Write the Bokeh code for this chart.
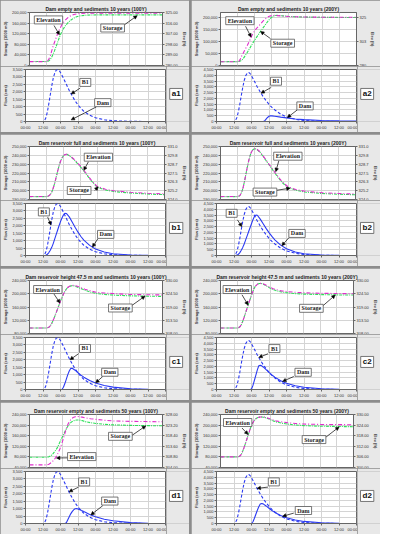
from bokeh.plotting import figure
from bokeh.models import Range1d, LinearAxis, FixedTicker, NumeralTickFormatter, Label, Arrow, NormalHead
from bokeh.layouts import column, row
from bokeh.embed import file_html
from bokeh.resources import INLINE

# ---------------- data ----------------
X_TICKS = [0, 12, 24, 36, 48, 60, 72, 84, 96]
X_LABELS = ["00:00", "12:00", "00:00", "12:00", "00:00", "12:00", "00:00", "12:00", "00:00"]

H_B1 = [0, 6, 12, 13, 14, 15, 16, 17, 18, 19, 20, 21, 22, 23, 24, 25, 26, 27, 28, 30, 32, 34, 36, 38, 40, 44, 48, 54, 60, 72, 84, 96]
B1_100 = [0, 0, 0, 40, 250, 650, 1200, 1800, 2400, 2900, 3250, 3450, 3500, 3440, 3300, 3120, 2920, 2710, 2500, 2090, 1720, 1390, 1110, 880, 690, 420, 255, 115, 50, 10, 0, 0]
B1_200 = [0, 0, 0, 80, 350, 850, 1500, 2250, 2950, 3550, 3950, 4180, 4250, 4150, 3950, 3720, 3480, 3230, 2990, 2550, 2150, 1800, 1490, 1220, 1000, 640, 400, 190, 85, 20, 0, 0]

A1_DAM_T = [0, 96]
A1_DAM = [0, 0]
A2_DAM_T = [0, 32, 33, 34, 35, 36, 37, 38, 40, 44, 48, 54, 60, 72, 84, 96]
A2_DAM = [0, 0, 50, 200, 350, 450, 500, 490, 460, 380, 310, 220, 160, 90, 55, 35]
B1_DAM = [0, 0, 0, 0, 20, 80, 200, 350, 550, 800, 1100, 1400, 1700, 2000, 2280, 2520, 2720, 2840, 2830, 2600, 2250, 1900, 1570, 1280, 1030, 680, 440, 230, 120, 35, 10, 0]
B2_DAM = [0, 0, 0, 0, 30, 100, 250, 450, 700, 1000, 1350, 1700, 2050, 2400, 2750, 3100, 3380, 3500, 3480, 3150, 2750, 2350, 1980, 1650, 1360, 900, 590, 300, 150, 40, 10, 0]
C1_DAM_T = [0, 25, 26, 27, 28, 29, 30, 31, 32, 34, 36, 38, 40, 44, 48, 54, 60, 72, 84, 96]
C1_DAM = [0, 0, 150, 400, 700, 1000, 1250, 1420, 1430, 1300, 1130, 970, 830, 600, 440, 270, 160, 50, 15, 0]
C2_DAM_T = [0, 23, 24, 25, 26, 27, 28, 29, 30, 31, 32, 34, 36, 38, 40, 44, 48, 54, 60, 72, 84, 96]
C2_DAM = [0, 0, 50, 350, 800, 1250, 1700, 2050, 2100, 2050, 1950, 1720, 1480, 1260, 1070, 760, 540, 320, 190, 60, 20, 0]
D1_DAM_T = [0, 27, 28, 29, 30, 31, 32, 33, 34, 35, 36, 38, 40, 44, 48, 54, 60, 72, 84, 96]
D1_DAM = [0, 0, 50, 250, 450, 650, 800, 920, 990, 1000, 980, 900, 800, 610, 460, 290, 180, 60, 20, 0]
D2_DAM_T = [0, 24, 25, 26, 27, 28, 29, 30, 31, 32, 34, 36, 38, 40, 44, 48, 54, 60, 72, 84, 96]
D2_DAM = [0, 0, 150, 450, 800, 1150, 1450, 1680, 1730, 1700, 1520, 1320, 1130, 960, 690, 490, 300, 180, 60, 20, 0]

A1_T = [0, 12, 13, 14, 15, 16, 17, 18, 19, 20, 21, 22, 23, 24, 25, 26, 28, 30, 32, 34, 36, 40, 44, 48, 60, 72, 96]
A1_STOR = [15000, 15000, 15500, 18000, 23000, 31000, 42000, 55000, 69000, 83000, 98000, 112000, 124000, 134000, 143000, 151000, 163000, 172000, 179000, 184000, 187000, 189500, 190500, 191000, 191000, 191000, 191000]
A1_ELEV = [283.3, 283.3, 283.8, 285.5, 288.3, 292.2, 296.3, 299.5, 302.8, 306, 309, 311.6, 313.8, 315.7, 317.3, 318.7, 320.9, 322.4, 323.3, 323.8, 324.1, 324.3, 324.3, 324.3, 324.3, 324.3, 324.3]

A2_T = [0, 12, 13, 14, 15, 16, 17, 18, 19, 20, 21, 22, 23, 24, 25, 26, 28, 30, 32, 34, 36, 38, 40, 44, 48, 54, 60, 72, 96]
A2_STOR = [16000, 16000, 16500, 19000, 22000, 28000, 37000, 46000, 55000, 65000, 75000, 85000, 95000, 104000, 113000, 122000, 139000, 156000, 172000, 188000, 200000, 207000, 208000, 206000, 204000, 202000, 201000, 200000, 199000]
A2_ELEV = [283.5, 283.5, 284, 286, 289, 291.5, 294, 296.5, 299, 301.8, 304.5, 307.5, 310, 312.2, 314, 315.5, 318.5, 321.5, 324, 325.8, 326.6, 326.8, 326.6, 326.2, 325.8, 325.5, 325.3, 325.1, 325]

B_T = [0, 12, 13, 14, 15, 16, 17, 18, 19, 20, 21, 22, 23, 24, 25, 26, 27, 28, 30, 32, 34, 36, 38, 40, 44, 48, 54, 60, 72, 84, 96]
B1_STOR = [193300, 193300, 193500, 194500, 196000, 199000, 203500, 209000, 215500, 222000, 228000, 233000, 236800, 239200, 240700, 241200, 240900, 239800, 237500, 234500, 231000, 227500, 223500, 219500, 211000, 204000, 200800, 199000, 197300, 196200, 195500]
B1_ELEV = [324.39, 324.39, 324.41, 324.53, 324.70, 325.05, 325.58, 326.22, 326.98, 327.73, 328.43, 329.02, 329.46, 329.74, 329.92, 329.97, 329.97, 329.85, 329.59, 329.25, 328.85, 328.46, 327.99, 327.53, 326.54, 325.73, 325.36, 325.15, 324.95, 324.82, 324.74]
B2_STOR = [193300, 193300, 193600, 195000, 198000, 203000, 210000, 218000, 226000, 233500, 239500, 243800, 246300, 247300, 247300, 246500, 245200, 243600, 239500, 235000, 230500, 226000, 221500, 217000, 209000, 203500, 200300, 198500, 196800, 195900, 195400]
B2_ELEV = [324.39, 324.39, 324.42, 324.58, 324.93, 325.52, 326.33, 327.27, 328.2, 329.08, 329.78, 330.28, 330.57, 330.69, 330.69, 330.62, 330.48, 330.29, 329.83, 329.31, 328.8, 328.28, 327.76, 327.24, 326.31, 325.68, 325.30, 325.09, 324.89, 324.79, 324.73]

C_T = [0, 12, 13, 14, 15, 16, 17, 18, 19, 20, 21, 22, 23, 24, 25, 26, 27, 28, 29, 30, 31, 32, 34, 36, 38, 40, 44, 48, 54, 60, 72, 84, 96]
C1_STOR = [96600, 96600, 97000, 99000, 103000, 110000, 119000, 129000, 140000, 151000, 162500, 174000, 185000, 194500, 203000, 210500, 216000, 220000, 222500, 223800, 224200, 223800, 221000, 217500, 214000, 210500, 205000, 201000, 198000, 196000, 193800, 192800, 192000]
C1_ELEV = [310.3, 310.3, 310.35, 310.6, 311.2, 312.1, 313.4, 314.7, 316.3, 317.8, 319.3, 320.9, 322.4, 323.7, 324.9, 325.9, 326.7, 327.3, 327.6, 327.8, 327.9, 328.0, 327.7, 327.3, 326.8, 326.4, 325.7, 325.1, 324.8, 324.6, 324.2, 324.1, 324.0]
C2_STOR = [96600, 96600, 97500, 100500, 106000, 116000, 128000, 141000, 154000, 166500, 179000, 191500, 203000, 213500, 221500, 226500, 229500, 231000, 231200, 230500, 228500, 226000, 221000, 216500, 212500, 209500, 205500, 203000, 200500, 199000, 197500, 196500, 196000]
C2_ELEV = [310.3, 310.3, 310.4, 310.8, 311.6, 313.0, 314.6, 316.4, 318.2, 319.9, 321.6, 323.3, 324.9, 326.4, 327.5, 328.1, 328.6, 328.8, 328.8, 328.8, 328.6, 328.3, 327.7, 327.1, 326.6, 326.2, 325.7, 325.4, 325.1, 324.9, 324.7, 324.6, 324.5]

D_T = [0, 12, 13, 14, 15, 16, 17, 18, 19, 20, 21, 22, 23, 24, 25, 26, 27, 28, 29, 30, 31, 32, 33, 34, 35, 36, 38, 40, 44, 48, 54, 60, 72, 84, 96]
D1_STOR = [78800, 78800, 79200, 80500, 83000, 87000, 92500, 99000, 106000, 114000, 125000, 136500, 148000, 158500, 169500, 180000, 190000, 198500, 205500, 210500, 214000, 216500, 218300, 219300, 219400, 219000, 217000, 213300, 209000, 206300, 203000, 201000, 199000, 198000, 197500]
D1_ELEV = [305.2, 305.2, 305.3, 305.5, 305.9, 306.4, 307.0, 307.7, 308.6, 309.7, 311.0, 312.5, 314.3, 316.2, 318.3, 320.4, 322.3, 323.9, 325.0, 325.8, 326.4, 326.8, 327.0, 327.1, 327.1, 327.0, 326.8, 326.5, 326.1, 325.8, 325.4, 325.1, 324.9, 324.8, 324.7]
D2_STOR = [80000, 80000, 80800, 83500, 89000, 101000, 115000, 130500, 146500, 162500, 178500, 194000, 206000, 214500, 221000, 226000, 228800, 230000, 230400, 230300, 229600, 228500, 226900, 225000, 222800, 220500, 216000, 212300, 207500, 204200, 200500, 198000, 195800, 194700, 194000]
D2_ELEV = [306.0, 306.0, 306.1, 306.5, 307.4, 309.2, 311.3, 313.6, 316.0, 318.4, 320.8, 323.1, 324.9, 326.2, 327.2, 327.9, 328.3, 328.5, 328.6, 328.6, 328.55, 328.5, 328.3, 328.05, 327.75, 327.4, 326.9, 326.4, 325.8, 325.4, 324.9, 324.6, 324.4, 324.3, 324.2]

# axis ticks / labels
A1_LT = [0, 40000, 80000, 120000, 160000, 200000]
A1_RT = [280, 289, 298, 307, 316, 325]
A1_RL = ["280.00", "289.00", "298.00", "307.00", "316.00", "325.00"]
A2_LT = [0, 50000, 100000, 150000, 200000]
A2_RT = [280, 302.5, 325]
A2_RL = ["280", "303", "325"]
B_LT = [190000, 200000, 210000, 220000, 230000, 240000, 250000]
B_RT = [324.0, 325.1667, 326.3333, 327.5, 328.6667, 329.8333, 331.0]
B_RL = ["324.0", "325.2", "326.3", "327.5", "328.7", "329.8", "331.0"]
C_LT = [80000, 120000, 160000, 200000, 240000]
C_RT = [308.0, 313.5, 319.0, 324.5, 330.0]
C_RL = ["308.00", "313.50", "319.00", "324.50", "330.00"]
D1_LT = [40000, 80000, 120000, 160000, 200000, 240000]
D1_RT = [304.0, 308.8, 313.6, 318.4, 323.2, 328.0]
D1_RL = ["304.00", "308.80", "313.60", "318.40", "323.20", "328.00"]
D2_LT = [40000, 80000, 120000, 160000, 200000, 240000]
D2_RT = [300.0, 306.0, 312.0, 318.0, 324.0, 330.0]
D2_RL = ["300.00", "306.00", "312.00", "318.00", "324.00", "330.00"]
F100_T = [0, 500, 1000, 1500, 2000, 2500, 3000, 3500]
F200_T = [0, 500, 1000, 1500, 2000, 2500, 3000, 3500, 4000, 4500]

TITLES = {
    "a1": "Dam empty and sediments 10 years (100Y)",
    "a2": "Dam empty and sediments 10 years (200Y)",
    "b1": "Dam reservoir full and sediments 10 years (100Y)",
    "b2": "Dam reservoir full and sediments 10 years (200Y)",
    "c1": "Dam reservoir height 47.5 m and sediments 10 years (100Y)",
    "c2": "Dam reservoir height 47.5 m and sediments 10 years (200Y)",
    "d1": "Dam reservoir empty and sediments 50 years (100Y)",
    "d2": "Dam reservoir empty and sediments 50 years (200Y)",
}

# ---------------- style ----------------
W, HT, HB = 189, 66, 66
ML, MR = 25, 24
PANEL = "#e8e8e8"
FRAME = "#666666"
GRID = "#d4d4d4"
GREEN = "#2fe05a"
MAGENTA = "#e02ccc"
BLUE = "#2b3af2"
TICK_FS = "4px"


def style_axis(ax):
    ax.major_label_text_font_size = TICK_FS
    ax.major_label_text_font = "Liberation Sans"
    ax.major_label_text_color = "#333333"
    ax.major_label_standoff = 1
    ax.major_tick_out = 2
    ax.major_tick_in = 0
    ax.minor_tick_line_color = None
    ax.axis_line_color = FRAME
    ax.major_tick_line_color = FRAME
    ax.axis_label_text_font_size = "4px"
    ax.axis_label_text_font = "Liberation Sans"
    ax.axis_label_text_font_style = "bold"
    ax.axis_label_text_color = "#333333"
    ax.axis_label_standoff = 1


def add_note(p, txt, lx, ly, x0, y0, x1, y1):
    p.add_layout(Arrow(end=NormalHead(size=3.5, fill_color="black", line_color="black", line_width=0.5),
                       x_start=x0, y_start=y0, x_end=x1, y_end=y1,
                       line_color="black", line_width=0.7))
    p.add_layout(Label(x=lx, y=ly, text=txt, text_align="center", text_baseline="middle",
                       text_font="Liberation Serif", text_font_style="bold", text_font_size="6px",
                       text_color="#222222", background_fill_color="white",
                       border_line_color="#555555", border_line_width=0.8, padding=(2, 1)))


def top_fig(key, t, stor, elev, yr, lt, rr, rt, rl, fmt, notes):
    p = figure(width=W, height=HT, x_range=Range1d(0, 96), y_range=Range1d(*yr),
               x_axis_location=None, output_backend="svg", toolbar_location=None,
               min_border_left=ML, min_border_right=MR, min_border_top=12, min_border_bottom=1,
               border_fill_color=PANEL, background_fill_color="white", outline_line_color=FRAME)
    p.title.text = TITLES[key]
    p.title.align = "center"
    p.title.text_font = "Liberation Sans"
    p.title.text_font_size = "5px"
    p.title.text_font_style = "bold"
    p.title.text_color = "#222222"
    p.title.standoff = 2
    p.xgrid.ticker = FixedTicker(ticks=X_TICKS)
    p.xgrid.grid_line_color = GRID
    p.ygrid.grid_line_color = GRID
    ax = p.yaxis[0]
    ax.ticker = FixedTicker(ticks=lt)
    ax.formatter = NumeralTickFormatter(format="0,0")
    ax.axis_label = "Storage (1000 m3)"
    style_axis(ax)
    p.extra_y_ranges = {"elev": Range1d(*rr)}
    rax = LinearAxis(y_range_name="elev", ticker=FixedTicker(ticks=rt),
                     formatter=NumeralTickFormatter(format=fmt),
                     major_label_overrides={v: s for v, s in zip(rt, rl)},
                     axis_label="Elev (ft)")
    style_axis(rax)
    p.add_layout(rax, "right")
    p.line(t, stor, color=GREEN, line_width=1.1, line_dash="3 1 1 1")
    p.line(t, elev, y_range_name="elev", color=MAGENTA, line_width=1.1, line_dash="4 2 1 2")
    for n in notes:
        add_note(p, *n)
    return p


def bot_fig(key, b1, dam_t, dam, fmax, ft, notes):
    p = figure(width=W - MR + 1, height=HB, x_range=Range1d(0, 96), y_range=Range1d(0, fmax),
               output_backend="svg", toolbar_location=None,
               min_border_left=ML, min_border_right=1, min_border_top=3, min_border_bottom=10,
               border_fill_color=PANEL, background_fill_color="white", outline_line_color=FRAME)
    p.xgrid.grid_line_color = GRID
    p.ygrid.grid_line_color = GRID
    xa = p.xaxis[0]
    xa.ticker = FixedTicker(ticks=X_TICKS)
    xa.major_label_overrides = {v: s for v, s in zip(X_TICKS, X_LABELS)}
    style_axis(xa)
    ya = p.yaxis[0]
    ya.ticker = FixedTicker(ticks=ft)
    ya.formatter = NumeralTickFormatter(format="0,0")
    ya.axis_label = "Flow (cms)"
    style_axis(ya)
    p.line(H_B1, b1, color=BLUE, line_width=1.1, line_dash="3 2")
    p.line(dam_t, dam, color=BLUE, line_width=1.1)
    for n in notes:
        add_note(p, *n)

    tag = figure(width=MR - 1, height=HB, x_range=Range1d(0, 1), y_range=Range1d(0, 1),
                 x_axis_location=None, y_axis_location=None,
                 output_backend="svg", toolbar_location=None, min_border=0,
                 border_fill_color=PANEL, background_fill_color=PANEL, outline_line_color=None)
    tag.grid.visible = False
    tag.add_layout(Label(x=0.42, y=0.53, text=key, text_align="center", text_baseline="middle",
                         text_font="Liberation Sans", text_font_style="bold", text_font_size="8px",
                         text_color="#111111", background_fill_color="white",
                         border_line_color="#555555", border_line_width=0.8, padding=(2, 1)))
    return row(p, tag, spacing=0)


def panel(top, bot):
    return column(top, bot, spacing=0)


pa1 = panel(
    top_fig("a1", A1_T, A1_STOR, A1_ELEV, (0, 200000), A1_LT, (280, 325), A1_RT, A1_RL, "0.00",
            [("Elevation", 13.7, 172000, 17.7, 151000, 21.6, 116000),
             ("Storage", 60, 141500, 68.9, 155000, 77.7, 188000)]),
    bot_fig("a1", B1_100, A1_DAM_T, A1_DAM, 3500, F100_T,
            [("B1", 41, 2630, 37.5, 2250, 31.3, 1850),
             ("Dam", 53, 1270, 48.6, 985, 31.3, 110)]))
pa2 = panel(
    top_fig("a2", A2_T, A2_STOR, A2_ELEV, (0, 220000), A2_LT, (280, 329.5), A2_RT, A2_RL, "0",
            [("Elevation", 13.7, 186000, 17.7, 163000, 21.6, 118000),
             ("Storage", 43.9, 92500, 35.3, 111600, 28.3, 141500)]),
    bot_fig("a2", B1_200, A2_DAM_T, A2_DAM, 4500, F200_T,
            [("B1", 40.8, 3485, 37.5, 2950, 30.5, 2450),
             ("Dam", 60.7, 1350, 55.2, 985, 48.6, 337)]))
pb1 = panel(
    top_fig("b1", B_T, B1_STOR, B1_ELEV, (190000, 250000), B_LT, (324, 331), B_RT, B_RL, "0.0",
            [("Elevation", 49, 237900, 41.9, 232800, 38.6, 223000),
             ("Storage", 35.3, 200200, 46.4, 200000, 48.8, 204500)]),
    bot_fig("b1", B1_100, H_B1, B1_DAM, 3500, F100_T,
            [("B1", 12.6, 2935, 15.2, 2580, 17.5, 2050),
             ("Dam", 55, 1420, 49.7, 1140, 45.9, 566)]))
pb2 = panel(
    top_fig("b2", B_T, B2_STOR, B2_ELEV, (190000, 250000), B_LT, (324, 331), B_RT, B_RL, "0.0",
            [("Elevation", 47.9, 239000, 41.5, 234000, 39.3, 221500),
             ("Storage", 31.6, 198400, 40.2, 200500, 49.5, 202800)]),
    bot_fig("b2", B1_200, H_B1, B2_DAM, 4500, F200_T,
            [("B1", 10.4, 3650, 14.3, 3090, 17.4, 2500),
             ("Dam", 55.2, 1910, 49.7, 1545, 44.8, 850)]))
pc1 = panel(
    top_fig("c1", C_T, C1_STOR, C1_ELEV, (80000, 240000), C_LT, (308, 330), C_RT, C_RL, "0.00",
            [("Elevation", 13.2, 212700, 17.7, 199000, 22, 172000),
             ("Storage", 65.6, 157000, 74, 164900, 83.4, 193000)]),
    bot_fig("c1", B1_100, C1_DAM_T, C1_DAM, 3500, F100_T,
            [("B1", 40.8, 2760, 36.4, 2410, 30.5, 2000),
             ("Dam", 57.8, 1160, 53, 876, 48.1, 450)]))
pc2 = panel(
    top_fig("c2", C_T, C2_STOR, C2_ELEV, (80000, 240000), C_LT, (308, 330), C_RT, C_RL, "0.00",
            [("Elevation", 12.1, 212700, 15.5, 197000, 19.9, 166000),
             ("Storage", 65.6, 156000, 74, 163900, 82.8, 196000)]),
    bot_fig("c2", B1_200, C2_DAM_T, C2_DAM, 4500, F200_T,
            [("B1", 39.7, 3540, 35.3, 3090, 29.0, 2770),
             ("Dam", 59.4, 1490, 53, 1124, 45.3, 700)]))
pd1 = panel(
    top_fig("d1", D_T, D1_STOR, D1_ELEV, (40000, 240000), D1_LT, (304, 328), D1_RT, D1_RL, "0.00",
            [("Elevation", 37.7, 81200, 27.6, 76400, 19.4, 76000),
             ("Storage", 65.6, 157600, 74, 161200, 83.9, 197000)]),
    bot_fig("d1", B1_100, D1_DAM_T, D1_DAM, 3500, F100_T,
            [("B1", 40.2, 2800, 36.4, 2450, 29.8, 2130),
             ("Dam", 57.8, 1510, 53, 1200, 44.8, 580)]))
pd2 = panel(
    top_fig("d2", D_T, D2_STOR, D2_ELEV, (40000, 240000), D2_LT, (300, 330), D2_RT, D2_RL, "0.00",
            [("Elevation", 12.4, 209700, 15.5, 189000, 19.9, 164800),
             ("Storage", 67.5, 145400, 76.2, 155000, 85.6, 193000)]),
    bot_fig("d2", B1_200, D2_DAM_T, D2_DAM, 4500, F200_T,
            [("B1", 39.3, 3600, 35.3, 3150, 27.8, 3040),
             ("Dam", 59.6, 1124, 53, 900, 45.3, 620)]))

layout = column(
    row(pa1, pa2, spacing=2),
    row(pb1, pb2, spacing=2),
    row(pc1, pc2, spacing=2),
    row(pd1, pd2, spacing=2),
    spacing=2,
    styles={"background-color": "#8c8c8c"},
)

open("out.html", "w").write(file_html(layout, INLINE))
